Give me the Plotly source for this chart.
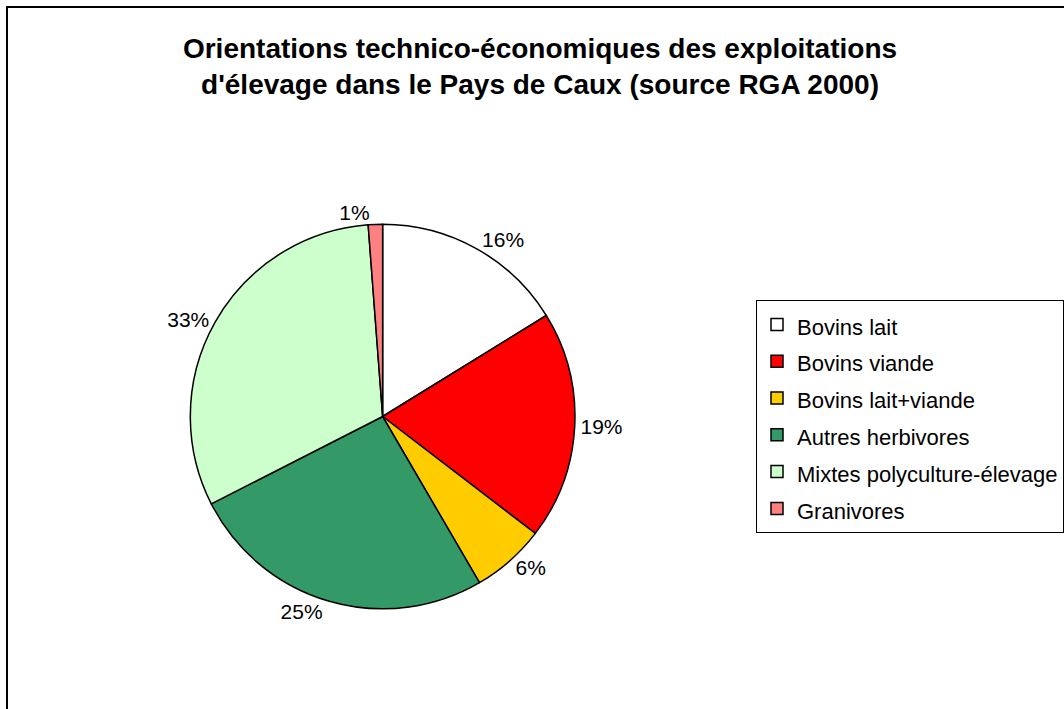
import plotly.graph_objects as go

categories = ["Bovins lait", "Bovins viande", "Bovins lait+viande",
              "Autres herbivores", "Mixtes polyculture-élevage", "Granivores"]
values = [16.2, 19.2, 6.2, 25.9, 31.3, 1.2]
pct_labels = ["16%", "19%", "6%", "25%", "33%", "1%"]
colors = ["#FFFFFF", "#FF0000", "#FFCC00", "#339966", "#CCFFCC", "#FF8080"]

W, H = 1064, 709
cx, cy, r = 383, 416.5, 192.5

legend_labels = ['<span style="font-size:22px">%s</span>' % c for c in categories]

fig = go.Figure(go.Pie(
    labels=legend_labels,
    values=values,
    text=pct_labels,
    textinfo="text",
    textposition="outside",
    sort=False,
    direction="clockwise",
    rotation=0,
    marker=dict(colors=colors, line=dict(color="black", width=1.5)),
    textfont=dict(family="Liberation Sans, Arial", size=21, color="black"),
    showlegend=True,
    domain=dict(x=[(cx - r) / W, (cx + r) / W], y=[1 - (cy + r) / H, 1 - (cy - r) / H]),
    hovertext=categories,
    hoverinfo="text+percent",
))

fig.update_layout(
    width=W, height=H,
    margin=dict(l=0, r=0, t=0, b=0),
    paper_bgcolor="white",
    plot_bgcolor="white",
    title=dict(
        text="Orientations technico-économiques des exploitations<br>d'élevage dans le Pays de Caux (source RGA 2000)",
        x=540 / W, xanchor="center",
        y=1 - 58 / H, yanchor="top",
        font=dict(family="Liberation Sans, Arial", size=28, color="black", weight="bold"),
    ),
    legend=dict(
        x=757 / W, xanchor="left",
        y=1 - 300 / H, yanchor="top",
        bordercolor="black", borderwidth=1,
        bgcolor="white",
        font=dict(family="Liberation Sans, Arial", size=26, color="black"),
        traceorder="normal",
    ),
    shapes=[dict(type="rect", xref="paper", yref="paper",
                 x0=7 / W, x1=1.05, y0=-0.05, y1=1 - 7 / H,
                 line=dict(color="black", width=2), fillcolor="rgba(0,0,0,0)")],
)

fig.write_html("out.html", config={"displayModeBar": False},
               post_script="document.body.style.margin='0';")
